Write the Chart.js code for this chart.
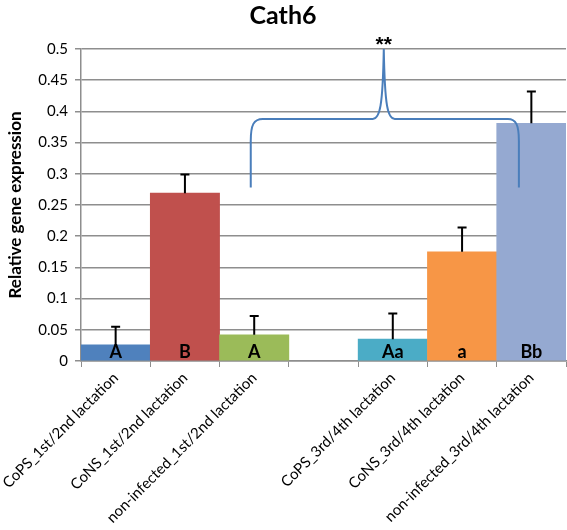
<!DOCTYPE html>
<html>
<head>
<meta charset="utf-8">
<script src="https://cdn.jsdelivr.net/npm/chart.js@4"></script>
<style>
    html, body { margin: 0; padding: 0; background: #fff; }
    #box { width: 567px; height: 530px; }
</style>
</head>
<body>
<div id="box"><canvas id="grafico"></canvas></div>
<script>
// dados
const categorias = [
    'CoPS_1st/2nd lactation',
    'CoNS_1st/2nd lactation',
    'non-infected_1st/2nd lactation',
    '',
    'CoPS_3rd/4th lactation',
    'CoNS_3rd/4th lactation',
    'non-infected_3rd/4th lactation'
]
const valores = [0.026, 0.269, 0.042, null, 0.035, 0.175, 0.381]
const erros = [0.029, 0.030, 0.030, null, 0.041, 0.039, 0.051]
const letras = ['A', 'B', 'A', '', 'Aa', 'a', 'Bb']
const cores = ['#4F81BD', '#C0504D', '#9BBB59', '#FFFFFF', '#4BACC6', '#F79646', '#95A9D1']
const yMin = 0
const yMax = 0.5
const yPasso = 0.05

// chave (brace) in data units: category index and y value
const chave = { de: 1.95, ate: 5.82, pico: 3.87, base: 0.278, nivel: 0.388, topo: 0.5, texto: '**' }

const fonte = 'Lato, "Open Sans", sans-serif'

const extras = {
    id: 'extras',
    afterDatasetsDraw(chart) {
        const ctx = chart.ctx
        const y = chart.scales.y
        const meta = chart.getDatasetMeta(0)
        ctx.save()
        // barras de erro
        meta.data.forEach((bar, i) => {
            if (valores[i] == null) return
            const yTop = y.getPixelForValue(valores[i] + erros[i])
            const yBar = y.getPixelForValue(valores[i])
            ctx.strokeStyle = '#000'
            ctx.lineWidth = 2
            ctx.beginPath()
            ctx.moveTo(bar.x, yBar)
            ctx.lineTo(bar.x, yTop)
            ctx.moveTo(bar.x - 4.5, yTop)
            ctx.lineTo(bar.x + 4.5, yTop)
            ctx.stroke()
        })
        // letras
        ctx.fillStyle = '#000'
        ctx.font = 'bold 18px ' + fonte
        ctx.textAlign = 'center'
        ctx.textBaseline = 'alphabetic'
        const y0 = y.getPixelForValue(0)
        meta.data.forEach((bar, i) => {
            if (!letras[i]) return
            ctx.fillText(letras[i], bar.x, y0 - 3)
        })
        ctx.restore()
    },
    afterDraw(chart) {
        const ctx = chart.ctx
        const x = chart.scales.x
        const y = chart.scales.y
        const xL = x.getPixelForValue(chave.de)
        const xR = x.getPixelForValue(chave.ate)
        const xP = x.getPixelForValue(chave.pico)
        const yB = y.getPixelForValue(chave.base)
        const yN = y.getPixelForValue(chave.nivel)
        const yT = y.getPixelForValue(chave.topo)
        ctx.save()
        ctx.strokeStyle = '#4A7EBB'
        ctx.lineWidth = 2
        ctx.beginPath()
        ctx.moveTo(xL, yB)
        ctx.lineTo(xL, yN + 22)
        ctx.bezierCurveTo(xL, yN + 6, xL + 3, yN, xL + 12, yN)
        ctx.lineTo(xP - 11, yN)
        ctx.bezierCurveTo(xP - 4, yN, xP - 1, yN - 12, xP, yT)
        ctx.bezierCurveTo(xP + 1, yN - 12, xP + 4, yN, xP + 11, yN)
        ctx.lineTo(xR - 11, yN)
        ctx.bezierCurveTo(xR - 3, yN, xR, yN + 6, xR, yN + 22)
        ctx.lineTo(xR, yB)
        ctx.stroke()
        ctx.fillStyle = '#000'
        ctx.font = 'bold 21px "Liberation Sans", sans-serif'
        ctx.textAlign = 'center'
        ctx.textBaseline = 'alphabetic'
        ctx.fillText(chave.texto, xP, yT + 2)
        ctx.restore()
    }
}

const ctx = document.getElementById('grafico')

let grafico = new Chart(ctx, {
    type: 'bar',
    data: {
        labels: categorias,
        datasets: [{
            label: 'Cath6',
            data: valores,
            backgroundColor: cores,
            borderWidth: 0,
            barPercentage: 1,
            categoryPercentage: 1
        }]
    },
    options: {
        responsive: true,
        maintainAspectRatio: false,
        animation: false,
        layout: { padding: { left: 0, right: 1, top: 0, bottom: 0 } },
        plugins: {
            legend: { display: false },
            tooltip: { enabled: false },
            title: {
                display: true,
                text: 'Cath6',
                color: '#000',
                font: { family: fonte, size: 25, weight: 'bold' },
                padding: { top: 1, bottom: 18 }
            }
        },
        scales: {
            x: {
                grid: {
                    offset: true,
                    drawOnChartArea: false,
                    drawTicks: true,
                    tickLength: 6,
                    color: '#8E8E8E'
                },
                border: { color: '#8E8E8E', width: 1.5 },
                ticks: {
                    autoSkip: false,
                    minRotation: 45,
                    maxRotation: 45,
                    color: '#000',
                    padding: 2,
                    font: { family: fonte, size: 15 }
                },
                afterFit(scale) {
                    scale.height = 169
                    scale.paddingLeft = 0
                    scale.paddingRight = 0
                }
            },
            y: {
                min: yMin,
                max: yMax,
                ticks: {
                    stepSize: yPasso,
                    color: '#000',
                    padding: 7,
                    font: { family: fonte, size: 15 },
                    callback: v => String(+v.toFixed(2))
                },
                grid: {
                    color: '#8E8E8E',
                    lineWidth: 1.5,
                    tickLength: 6
                },
                border: { color: '#8E8E8E', width: 1.5 },
                title: {
                    display: true,
                    text: 'Relative gene expression',
                    color: '#000',
                    font: { family: fonte, size: 17, weight: 'bold' },
                    padding: { top: 5, bottom: 0 }
                },
                afterFit(scale) { scale.width = 81 }
            }
        }
    },
    plugins: [extras]
});
</script>
</body>
</html>
